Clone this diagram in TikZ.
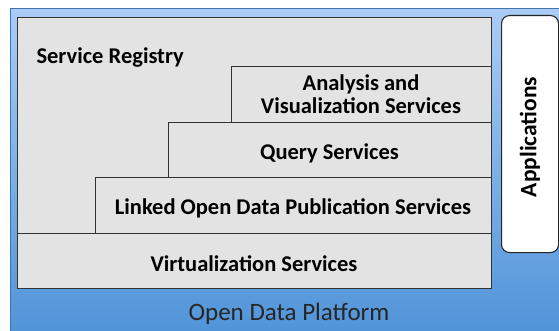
\documentclass[tikz,border=0pt]{standalone}
\usepackage{fontspec}
\setmainfont{Carlito}
\begin{document}
\begin{tikzpicture}[x=1pt,y=-1pt,
  layer/.style={draw=black!80,fill=gray!22,line width=1.1pt},
  lbl/.style={font=\bfseries\fontsize{22.5}{23}\selectfont,text=black,align=center}]
\useasboundingbox (0,0) rectangle (559,331);
\definecolor{bluetop}{RGB}{170,204,246}
\definecolor{bluebot}{RGB}{80,148,216}
\node[draw=bluebot!80!black,line width=0.6pt,top color=bluetop,bottom color=bluebot,minimum width=549pt,minimum height=324pt,anchor=north west,inner sep=0pt] (plat) at (10,8) {};
\node[layer,anchor=north west,minimum width=474pt,minimum height=271pt,inner sep=0pt] (reg) at (17,17) {};
\node[layer,anchor=north west,minimum width=474pt,minimum height=55pt,inner sep=0pt] (virt) at (17,233) {};
\node[layer,anchor=north west,minimum width=396pt,minimum height=56pt,inner sep=0pt] (lod) at (95,177) {};
\node[layer,anchor=north west,minimum width=323pt,minimum height=55pt,inner sep=0pt] (query) at (168,122) {};
\node[layer,anchor=north west,minimum width=260pt,minimum height=56pt,inner sep=0pt] (ana) at (231,66) {};
\node[draw=black!85,fill=white,rounded corners=8pt,line width=1.1pt,anchor=north west,minimum width=57pt,minimum height=237pt,inner sep=0pt] (apps) at (501,15) {};
\node[lbl,anchor=west] (regt) at (33,58) {Service Registry};
\node[lbl] (anat) at (361,94) {Analysis and\\Visualization Services};
\node[lbl] (queryt) at (329.5,153) {Query Services};
\node[lbl] (lodt) at (293,208) {Linked Open Data Publication Services};
\node[lbl] (virtt) at (254,264) {Virtualization Services};
\node[lbl,font=\bfseries\fontsize{23.5}{24}\selectfont,rotate=90] (appst) at (530,137) {Applications};
\node[font=\fontsize{25}{28}\selectfont,text=black!85] (platt) at (289,314) {Open Data Platform};
\end{tikzpicture}
\end{document}
